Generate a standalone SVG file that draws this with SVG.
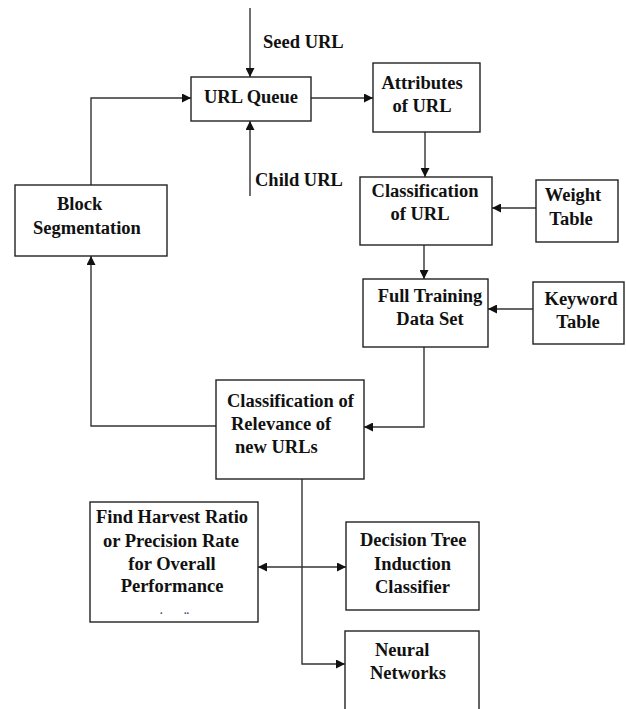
<svg xmlns="http://www.w3.org/2000/svg" width="626" height="709" viewBox="0 0 626 709">
<style>
.box{fill:#fff;stroke:#222;stroke-width:1.4}
.t{font-family:"Liberation Serif","Times New Roman",serif;font-weight:bold;font-size:18.5px;fill:#111}
.c{text-anchor:middle}
.ln{fill:none;stroke:#333;stroke-width:1.4}
.dot{font-family:"Liberation Serif",serif;font-size:10px;font-weight:bold;fill:#334477}
</style>
<defs>
<marker id="ah" viewBox="0 0 10 10" refX="10" refY="5" markerWidth="10" markerHeight="9" markerUnits="userSpaceOnUse" orient="auto-start-reverse">
<path d="M0,0 L10,5 L0,10 z" fill="#111"/>
</marker>
</defs>
<rect width="626" height="709" fill="#fff"/>
<g id="connectors">
<line class="ln" x1="250" y1="8" x2="250" y2="77" marker-end="url(#ah)"/>
<line class="ln" x1="250" y1="196" x2="250" y2="121" marker-end="url(#ah)"/>
<polyline class="ln" points="91,185 91,98 191,98" marker-end="url(#ah)"/>
<line class="ln" x1="311" y1="98" x2="373" y2="98" marker-end="url(#ah)"/>
<line class="ln" x1="425" y1="132" x2="425" y2="177" marker-end="url(#ah)"/>
<line class="ln" x1="536" y1="208" x2="492" y2="208" marker-end="url(#ah)"/>
<line class="ln" x1="424" y1="245" x2="424" y2="279" marker-end="url(#ah)"/>
<line class="ln" x1="533" y1="309" x2="488" y2="309" marker-end="url(#ah)"/>
<polyline class="ln" points="424,347 424,427 364,427" marker-end="url(#ah)"/>
<polyline class="ln" points="216,426 91,426 91,256" marker-end="url(#ah)"/>
<polyline class="ln" points="302,479 302,664 345,664" marker-end="url(#ah)"/>
<line class="ln" x1="258" y1="567" x2="346" y2="567" marker-start="url(#ah)" marker-end="url(#ah)"/>
</g>
<g id="seed-url"><text class="t" x="263" y="48">Seed URL</text></g>
<g id="child-url"><text class="t" x="255" y="186">Child URL</text></g>
<g id="url-queue">
<rect class="box" x="191" y="77" width="120" height="44"/>
<text class="t c" x="251" y="103">URL Queue</text>
</g>
<g id="attributes">
<rect class="box" x="373" y="63" width="107" height="69"/>
<text class="t c" x="422" y="89">Attributes</text>
<text class="t c" x="422" y="112">of URL</text>
</g>
<g id="block-seg">
<rect class="box" x="15" y="185" width="152" height="71"/>
<text class="t" x="57" y="210">Block</text>
<text class="t" x="33" y="234">Segmentation</text>
</g>
<g id="class-url">
<rect class="box" x="360" y="177" width="132" height="68"/>
<text class="t c" x="425" y="197">Classification</text>
<text class="t c" x="420" y="220">of URL</text>
</g>
<g id="weight-table">
<rect class="box" x="536" y="180" width="82" height="62"/>
<text class="t c" x="573" y="201">Weight</text>
<text class="t c" x="571" y="225">Table</text>
</g>
<g id="full-training">
<rect class="box" x="363" y="279" width="125" height="68"/>
<text class="t c" x="430" y="302">Full Training</text>
<text class="t c" x="430" y="325">Data Set</text>
</g>
<g id="keyword-table">
<rect class="box" x="533" y="282" width="91" height="62"/>
<text class="t c" x="581" y="305">Keyword</text>
<text class="t c" x="578" y="328">Table</text>
</g>
<g id="relevance">
<rect class="box" x="216" y="380" width="148" height="99"/>
<text class="t" x="227" y="407">Classification of</text>
<text class="t" x="231" y="430">Relevance of</text>
<text class="t" x="235" y="453">new URLs</text>
</g>
<g id="harvest">
<rect class="box" x="90" y="502" width="168" height="120"/>
<text class="t c" x="172" y="523">Find Harvest Ratio</text>
<text class="t c" x="171" y="547">or Precision Rate</text>
<text class="t c" x="172" y="570">for Overall</text>
<text class="t c" x="172" y="592">Performance</text>
<text class="dot" x="160" y="614">.</text>
<text class="dot" x="184" y="614">..</text>
</g>
<g id="decision-tree">
<rect class="box" x="346" y="522" width="133" height="88"/>
<text class="t" x="360" y="546">Decision Tree</text>
<text class="t" x="374" y="570">Induction</text>
<text class="t" x="375" y="593">Classifier</text>
</g>
<g id="neural">
<rect class="box" x="345" y="631" width="134" height="90"/>
<text class="t" x="375" y="656">Neural</text>
<text class="t" x="370" y="679">Networks</text>
</g>
</svg>
